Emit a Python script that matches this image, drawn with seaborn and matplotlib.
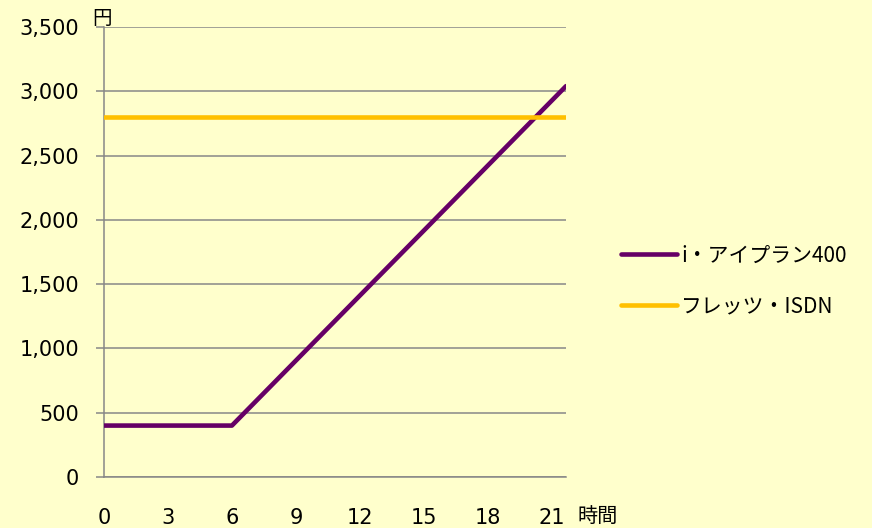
import matplotlib
matplotlib.use("Agg")
import matplotlib.pyplot as plt
import seaborn as sns
import pandas as pd

# ---- data ----
series_names = ["i・アイプラン400", "フレッツ・ISDN"]
iplan_hours = [0, 6, 21.67]
iplan_yen = [400, 400, 3040]
flets_hours = [0, 21.67]
flets_yen = [2800, 2800]
series_colors = ["#660066", "#FFC000"]
y_ticks = [0, 500, 1000, 1500, 2000, 2500, 3000, 3500]
x_ticks = [0, 3, 6, 9, 12, 15, 18, 21]
x_label = "時間"
y_label = "円"

df = pd.concat([
    pd.DataFrame({"hours": iplan_hours, "yen": iplan_yen, "series": series_names[0]}),
    pd.DataFrame({"hours": flets_hours, "yen": flets_yen, "series": series_names[1]}),
])

sns.set_theme(style="white")
plt.rcParams["font.family"] = ["DejaVu Sans", "Noto Sans CJK JP"]
plt.rcParams["lines.solid_capstyle"] = "round"

BG = "#FFFFCC"
GRID = "#878787"
W, H = 872, 528
fig = plt.figure(figsize=(W / 100, H / 100), dpi=100, facecolor=BG)
ax = fig.add_axes([104 / W, 1 - 477 / H, 462 / W, 450 / H])
ax.set_facecolor(BG)

sns.lineplot(data=df, x="hours", y="yen", hue="series", hue_order=series_names,
             palette=dict(zip(series_names, series_colors)), linewidth=3.3,
             estimator=None, sort=False, ax=ax, zorder=3)

ax.set_xlim(0, 21.67)
ax.set_ylim(0, 3500)
ax.set_yticks(y_ticks)
ax.set_yticklabels([f"{v:,}" for v in y_ticks], fontsize=15, color="black")
ax.set_xticks(x_ticks)
ax.set_xticklabels([str(v) for v in x_ticks], fontsize=15, color="black")
ax.tick_params(axis="y", length=6, width=1.1, color=GRID, pad=12, left=True)
ax.tick_params(axis="x", length=0, pad=22)
ax.yaxis.grid(True, color=GRID, linewidth=1.1, zorder=1)
ax.xaxis.grid(False)
ax.set_axisbelow(True)
for s in ["top", "right"]:
    ax.spines[s].set_visible(False)
for s in ["left", "bottom"]:
    ax.spines[s].set_color(GRID)
    ax.spines[s].set_linewidth(1.1)
ax.set_xlabel("")
ax.set_ylabel("")

fig.text(102 / W, 1 - 18 / H, y_label, ha="center", va="center", fontsize=14,
         family=["Noto Sans CJK JP"], color="black")
fig.text(598 / W, 1 - 516 / H, x_label, ha="center", va="center", fontsize=14.5,
         family=["Noto Sans CJK JP"], color="black")

handles, labels = ax.get_legend_handles_labels()
leg = ax.legend(handles, labels, loc="center left", bbox_to_anchor=(621 / W, 1 - 281 / H),
                bbox_transform=fig.transFigure, frameon=False,
                prop={"family": ["Noto Sans CJK JP"], "size": 15},
                handlelength=2.7, handletextpad=0.2, labelspacing=1.4,
                borderpad=0, borderaxespad=0)
for t in leg.get_texts():
    t.set_color("black")

fig.savefig("out.png", dpi=100, facecolor=BG)
